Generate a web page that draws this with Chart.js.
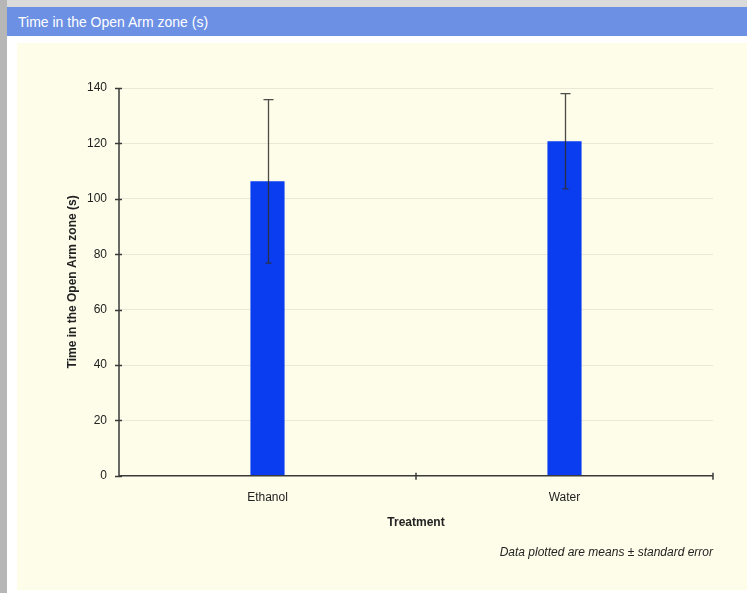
<!DOCTYPE html>
<html>
<head>
<meta charset="utf-8">
<title>Time in the Open Arm zone (s)</title>
<script src="https://cdn.jsdelivr.net/npm/chart.js@4/dist/chart.umd.min.js"></script>
<style>
  html, body { margin: 0; padding: 0; }
  body {
    width: 747px; height: 593px; overflow: hidden; position: relative;
    background: #dadada; font-family: "Liberation Sans", Arial, sans-serif;
  }
  #leftStrip { position: absolute; left: 0; top: 0; width: 7px; height: 593px; background: #b6b6b6; }
  #header {
    position: absolute; left: 7px; top: 7px; width: 740px; height: 29px;
    background: #6c90e4; color: #fff; font-size: 14px; line-height: 30px;
    padding-left: 11px; box-sizing: border-box;
  }
  #panel { position: absolute; left: 7px; top: 36px; width: 740px; height: 557px; background: #ffffff; }
  #plotBox { position: absolute; left: 17px; top: 43px; width: 730px; height: 547px; background: #fefdea; }
  #plotBox canvas { display: block; }
</style>
</head>
<body>
<div id="leftStrip"></div>
<div id="header">Time in the Open Arm zone (s)</div>
<div id="panel"></div>
<div id="plotBox"><canvas id="chart" width="730" height="547"></canvas></div>
<script>
// Treatment groups and their mean time (s) with standard error
const treatments = ["Ethanol", "Water"];
const meanTime = [106.3, 120.8];
const stdError = [29.5, 17.2];
const yTicks = [0, 20, 40, 60, 80, 100, 120, 140];

const AXIS_COLOR = "#3a3a3a";
const FONT = "'Liberation Sans', Arial, sans-serif";

// Error bars (mean ± SE) drawn on top of each bar
const errorBars = {
  id: "errorBars",
  afterDatasetsDraw(chart) {
    const ctx = chart.ctx;
    const y = chart.scales.y;
    const meta = chart.getDatasetMeta(0);
    ctx.save();
    ctx.strokeStyle = "rgba(45,45,45,0.85)";
    ctx.lineWidth = 1.3;
    meta.data.forEach((bar, i) => {
      const x = Math.round(bar.x) + 0.5;
      const top = y.getPixelForValue(meanTime[i] + stdError[i]);
      const bot = y.getPixelForValue(meanTime[i] - stdError[i]);
      ctx.beginPath();
      ctx.moveTo(x, top); ctx.lineTo(x, bot);
      ctx.moveTo(x - 5, top); ctx.lineTo(x + 5, top);
      ctx.moveTo(x - 3, bot); ctx.lineTo(x + 3, bot);
      ctx.stroke();
    });
    ctx.restore();
  }
};

// Axis lines with tick marks crossing them
const axisFrame = {
  id: "axisFrame",
  afterDatasetsDraw(chart) {
    const ctx = chart.ctx;
    const { left, right, bottom, top } = chart.chartArea;
    const y = chart.scales.y;
    const x = chart.scales.x;
    ctx.save();
    ctx.strokeStyle = AXIS_COLOR;
    ctx.lineWidth = 1.5;
    ctx.beginPath();
    ctx.moveTo(left, top); ctx.lineTo(left, bottom); ctx.lineTo(right, bottom);
    yTicks.forEach(v => {
      const py = Math.round(y.getPixelForValue(v)) + 0.5;
      ctx.moveTo(left - 4, py); ctx.lineTo(left + 3, py);
    });
    // category boundaries on the x axis
    const n = treatments.length;
    for (let i = 1; i <= n; i++) {
      const px = x.getPixelForValue(i - 0.5);
      ctx.moveTo(px, bottom - 3); ctx.lineTo(px, bottom + 4);
    }
    ctx.stroke();
    ctx.restore();
  }
};

new Chart(document.getElementById("chart"), {
  type: "bar",
  data: {
    labels: treatments,
    datasets: [{
      data: meanTime,
      backgroundColor: "#0a3df0",
      borderWidth: 0,
      barPercentage: 0.115,
      categoryPercentage: 1.0
    }]
  },
  options: {
    responsive: false,
    animation: false,
    layout: { padding: { left: 48, right: 34, top: 45, bottom: 30 } },
    plugins: {
      legend: { display: false },
      tooltip: { enabled: false },
      subtitle: {
        display: true,
        position: "bottom",
        align: "end",
        text: "Data plotted are means \u00b1 standard error",
        color: "#222",
        font: { family: FONT, size: 12, style: "italic" },
        padding: { top: 16, bottom: 0 }
      }
    },
    scales: {
      x: {
        grid: { display: false, drawTicks: true, tickLength: 5 },
        border: { display: false },
        ticks: { color: "#222", font: { family: FONT, size: 12 }, padding: 10 },
        title: {
          display: true, text: "Treatment", color: "#222",
          font: { family: FONT, size: 12, weight: "bold" },
          padding: { top: 0, bottom: 0 }
        }
      },
      y: {
        min: 0, max: 140,
        afterBuildTicks(scale) { scale.ticks = yTicks.map(v => ({ value: v })); },
        afterFit(scale) { scale.width = 54; },
        grid: { color: "#ebe9d6", lineWidth: 1, drawTicks: false },
        border: { display: false },
        ticks: { color: "#222", font: { family: FONT, size: 12 }, padding: 12 },
        title: {
          display: true, text: "Time in the Open Arm zone (s)", color: "#222",
          font: { family: FONT, size: 12, weight: "bold" },
          padding: { top: 0, bottom: 0 }
        }
      }
    }
  },
  plugins: [errorBars, axisFrame]
});
</script>
</body>
</html>
